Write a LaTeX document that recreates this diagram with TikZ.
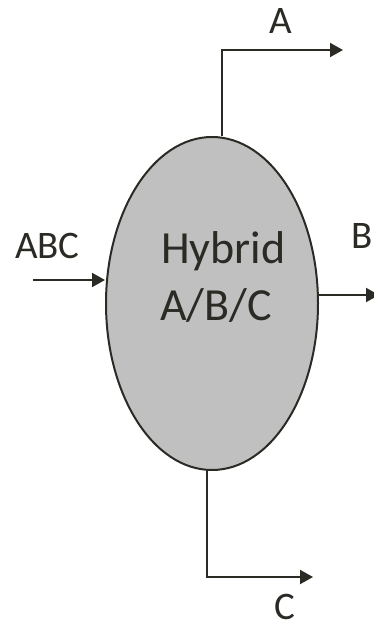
\documentclass[tikz,border=0pt]{standalone}
\usepackage{fontspec}
\setmainfont{Carlito}
\usetikzlibrary{shapes.geometric,arrows.meta}
\definecolor{ink}{HTML}{2B2A25}
\definecolor{fillgray}{HTML}{C0C0C0}
\begin{document}
\begin{tikzpicture}[x=1pt,y=-1pt,
  flow/.style={draw=ink,line width=2pt,-{Triangle[length=13pt,width=14pt]}},
  lbl/.style={text=ink,font=\fontsize{39}{44}\selectfont,inner sep=0pt,anchor=base west},
  big/.style={text=ink,font=\fontsize{46}{54}\selectfont,inner sep=0pt,anchor=base west}]
\useasboundingbox (0,0) rectangle (373,629);
\node[ellipse,draw=ink,fill=fillgray,line width=2pt,minimum width=212pt,minimum height=333pt,inner sep=0pt] (e) at (212,303.5) {};
\node[big] (h1) at (161,263) {Hybrid};
\node[big] (h2) at (160,320) {A/B/C};
% A
\coordinate (a1) at (222,50);
\coordinate (a2) at (343,50);
\draw[flow] (e.north -| a1) -- (a1) -- (a2);
\node[lbl] (la) at (269,33) {A};
% ABC
\coordinate (f0) at (33,280);
\draw[flow] (f0) -- (f0 -| e.west);
\node[lbl] (labc) at (15,258) {ABC};
% B
\coordinate (b1) at (379,295);
\draw[flow] (b1 -| e.east) -- (b1);
\node[lbl] (lb) at (351,248) {B};
% C
\coordinate (c1) at (207,577);
\coordinate (c2) at (313,577);
\draw[flow] (e.south -| c1) -- (c1) -- (c2);
\node[lbl] (lc) at (274,619) {C};
\end{tikzpicture}
\end{document}
